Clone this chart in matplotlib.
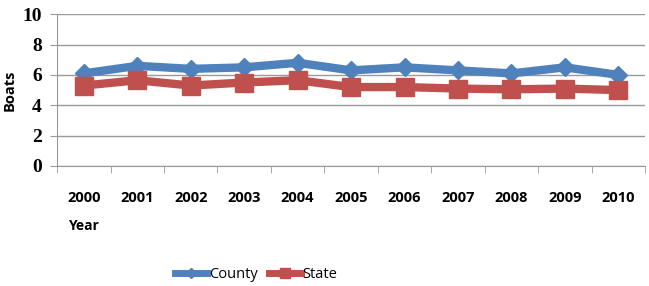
import numpy as np
import matplotlib.pyplot as plt

years = ['2000', '2001', '2002', '2003', '2004', '2005', '2006', '2007', '2008', '2009', '2010']
county = [6.1, 6.6, 6.4, 6.5, 6.8, 6.3, 6.5, 6.3, 6.1, 6.5, 6.0]
state = [5.3, 5.65, 5.3, 5.5, 5.65, 5.2, 5.2, 5.1, 5.05, 5.1, 5.0]

fig = plt.figure(figsize=(6.49, 2.86), dpi=100)
ax = fig.add_axes([0.088, 0.42, 0.906, 0.53])

x = np.arange(len(years))
ax.plot(x, county, color='#4F81BD', lw=6, marker='D', ms=9, label='County', zorder=3)
ax.plot(x, state, color='#C0504D', lw=6, marker='s', ms=13, label='State', zorder=3)

ax.set_xlim(-0.5, len(years) - 0.5)
ax.set_ylim(0, 10)
ax.set_yticks(range(0, 11, 2))
ax.set_yticklabels([str(v) for v in range(0, 11, 2)], fontfamily='Liberation Serif',
                   fontweight='bold', fontsize=14)
ax.yaxis.grid(True, color='#999999', lw=1)
ax.set_axisbelow(True)

ax.set_xticks(x)
ax.set_xticklabels(years, fontfamily='Open Sans', fontweight='bold', fontsize=10.5)
ax.set_xticks(np.arange(-0.5, len(years)), minor=True)
ax.tick_params(axis='x', which='major', length=0, pad=18)
ax.tick_params(axis='x', which='minor', length=5, color='#999999')
ax.tick_params(axis='y', length=5, color='#999999', pad=6)

for s in ['top', 'right']:
    ax.spines[s].set_visible(False)
for s in ['left', 'bottom']:
    ax.spines[s].set_color('#999999')

ax.set_ylabel('Boats', fontfamily='Open Sans', fontweight='bold', fontsize=10.5, labelpad=4)
fig.text(0.105, 0.21, 'Year', fontfamily='Open Sans', fontweight='bold', fontsize=10,
         ha='left', va='center')

fig.legend(loc='center', bbox_to_anchor=(0.395, 0.04), ncol=2, frameon=False,
           handlelength=2.2, columnspacing=0.8, handletextpad=0.1, markerscale=0.6,
           prop={'family': 'Open Sans', 'size': 10.5})
for h in fig.legends[0].legend_handles:
    h.set_linewidth(5)

fig.savefig('out.png', dpi=100)
